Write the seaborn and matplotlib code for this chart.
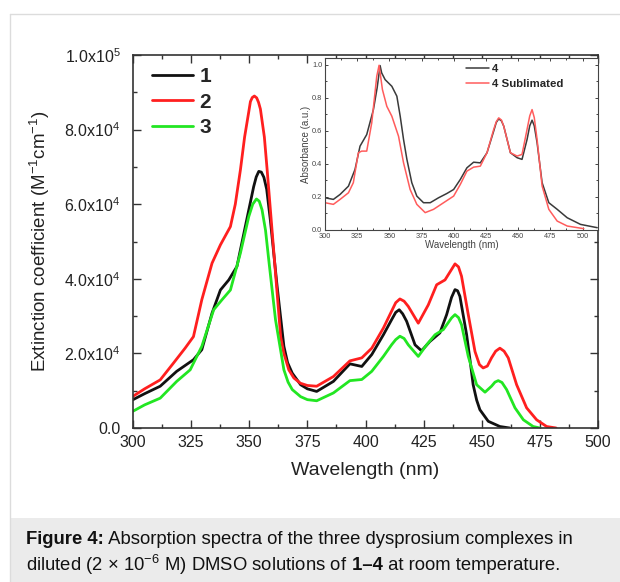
import numpy as np
import pandas as pd
import seaborn as sns
import matplotlib.pyplot as plt
from matplotlib.ticker import MultipleLocator, FuncFormatter, FormatStrFormatter
from matplotlib.lines import Line2D
from matplotlib.patches import Rectangle

# main panel: extinction coefficient (x1000 M-1 cm-1) vs wavelength (nm)
wl_1 = [300, 305, 311.7, 318.8, 326, 329.6, 334, 337.6, 341.2, 344.7, 348.3, 351.9, 353, 354.1, 355.2,
        356.3, 357.5, 359.1, 362, 364.9, 366.5, 368.5, 372.1, 375, 379, 386.2, 393.3, 398.4, 402.7,
        407.7, 411.2, 413, 414.5, 416, 417.7, 421.3, 424.1, 427.7, 432, 434.9, 437, 438.5, 439.6,
        440.6, 443.5, 445, 446.3, 447.8, 449.2, 452.8, 457.8, 462]
eps_1 = [7.6, 9.2, 11.2, 15.2, 18.3, 21.0, 30.8, 37.0, 39.7, 43.3, 54.0, 64.7, 67.3, 68.8, 68.6,
         67.2, 64.0, 55.6, 37.9, 21.9, 17.5, 14.7, 11.6, 10.5, 9.8, 12.5, 17.2, 16.5, 19.7,
         25.0, 29.0, 31.0, 31.7, 30.6, 28.6, 22.3, 20.7, 23.2, 25.5, 30.4, 35.0, 37.1, 36.8,
         35.3, 25.0, 18.0, 11.6, 7.5, 4.9, 1.8, 0.4, 0.0]

wl_2 = [300, 305, 311.7, 317.4, 322.4, 326, 329.6, 334, 337.6, 341.9, 344, 346.2, 348, 349.8, 350.5,
        351.3, 352.2, 353.2, 354, 354.8, 356.5, 357.7, 360.6, 363.5, 364.9, 367, 369.2, 372, 375,
        379, 386.2, 393.3, 398.4, 402.7, 407.7, 411.2, 413, 414.8, 416.6, 418.4, 422.7, 427, 430.6,
        434.2, 436.5, 438.5, 440, 441.3, 444.2, 447.1, 449, 450.6, 452.4, 454.2, 456, 457.8, 459.6,
        461.4, 465, 469.3, 473.6, 477.9, 482]
eps_2 = [8.5, 10.5, 12.9, 17.4, 21.4, 24.5, 34.4, 44.2, 49.1, 54.0, 60.0, 69.2, 78.0, 84.8, 87.5,
         88.6, 89.0, 88.5, 87.3, 85.5, 78.0, 69.2, 46.9, 24.5, 20.0, 15.6, 13.4, 12.0, 11.4,
         11.2, 13.8, 18.0, 18.8, 21.4, 26.8, 31.3, 33.6, 34.6, 34.0, 32.6, 28.1, 33.0, 38.4,
         39.7, 42.0, 44.0, 43.2, 40.7, 30.4, 20.5, 17.0, 16.1, 16.6, 18.8, 20.6, 21.4, 20.6,
         18.8, 11.6, 5.4, 2.2, 0.4, 0.0]

wl_3 = [300, 305, 311.7, 318.8, 324.6, 329.6, 334.7, 338.3, 341.9, 346.2, 349.8, 351.5, 353.1, 354.3,
        355.5, 357, 358.4, 361.3, 364.9, 366.7, 368.5, 372.1, 375, 379, 386.2, 393.3, 398.4, 402.7,
        407.7, 411.2, 413, 414.8, 416.6, 418.4, 422.7, 426.3, 429.9, 433.5, 437, 438.5, 440, 441.3,
        444.2, 447.8, 451.4, 454.2, 455.7, 457.1, 458.7, 460.7, 464.3, 467.9, 472.1, 475]
eps_3 = [4.5, 6.2, 8.0, 12.5, 15.6, 21.9, 31.7, 34.4, 37.0, 46.9, 56.7, 60.0, 61.4, 60.8,
         58.5, 53.0, 45.0, 29.0, 15.6, 12.3, 10.3, 8.4, 7.6, 7.3, 9.4, 12.7, 13.0, 15.2,
         19.2, 22.3, 23.7, 24.6, 24.0, 22.3, 19.2, 22.3, 25.0, 26.4, 29.5, 30.4, 29.6, 27.7,
         19.2, 11.6, 9.6, 11.2, 12.3, 12.7, 12.2, 10.3, 5.4, 2.2, 0.4, 0.0]

# inset: normalised absorbance of 4 and sublimated 4
wl_4 = [300, 306.5, 311.7, 318.2, 323.3, 327.2, 332.4, 337.6, 340.5, 342.8, 344, 346.7, 351.9, 355.8,
        358.4, 361, 363.6, 367.4, 371.3, 376.5, 381.7, 388.2, 394.7, 399.9, 405.1, 410.2, 415.4,
        420.6, 425.8, 431, 433, 434.9, 437, 438.8, 444, 449.2, 453, 456.9, 459, 460.8, 462.5, 464.7,
        468.6, 473.8, 480.3, 488.1, 498.4, 511.4]
abs_4 = [0.195, 0.185, 0.215, 0.265, 0.366, 0.507, 0.577, 0.728, 0.86, 0.994, 0.95, 0.909, 0.869, 0.809,
         0.688, 0.547, 0.427, 0.286, 0.205, 0.165, 0.165, 0.195, 0.221, 0.245, 0.306, 0.376, 0.41,
         0.406, 0.467, 0.598, 0.65, 0.672, 0.66, 0.628, 0.467, 0.437, 0.427, 0.547, 0.63, 0.664, 0.63, 0.527,
         0.286, 0.165, 0.125, 0.074, 0.034, 0.014]

wl_4s = [300, 306.5, 311.7, 318.2, 322, 325.9, 328.5, 332.4, 336.3, 340.2, 342, 344.6, 348, 351.9,
         357.1, 361, 366.1, 371.3, 377.8, 384.3, 392.1, 399.9, 405.1, 410.2, 415.4, 420.6, 425.8,
         431, 433, 434.9, 437, 438.8, 444, 449.2, 453, 456.9, 459, 460.8, 462.5, 464.7, 468.6, 473.8,
         480.3, 488.1, 501]
abs_4s = [0.165, 0.155, 0.185, 0.225, 0.286, 0.467, 0.477, 0.477, 0.648, 0.93, 0.996, 0.849, 0.748, 0.688,
          0.567, 0.406, 0.245, 0.155, 0.105, 0.125, 0.165, 0.205, 0.276, 0.356, 0.38, 0.386, 0.467,
          0.608, 0.655, 0.678, 0.665, 0.628, 0.467, 0.447, 0.457, 0.608, 0.69, 0.728, 0.68, 0.547, 0.266, 0.125,
          0.054, 0.024, 0.008]

caption_1 = ['Figure 4:', ' Absorption spectra of the three dysprosium complexes in']
caption_2 = ['diluted (2 × 10$^{−6}$ M) DMSO solutions of', ' 1–4', ' at room temperature.']

sns.set_style('ticks')
plt.rcParams['font.family'] = ['Liberation Sans', 'DejaVu Sans']
plt.rcParams['mathtext.fontset'] = 'custom'
plt.rcParams['mathtext.rm'] = 'Liberation Sans'
plt.rcParams['mathtext.it'] = 'Liberation Sans:italic'
plt.rcParams['mathtext.bf'] = 'Liberation Sans:bold'

W, H = 620, 582
fig = plt.figure(figsize=(W / 100, H / 100), dpi=100)
fig.patch.set_facecolor('white')

# page frame and caption band
fig.add_artist(Rectangle((10 / W, 0), 610 / W, 64 / H, transform=fig.transFigure,
                         facecolor='#ebebeb', edgecolor='none', zorder=0))
fig.add_artist(Line2D([10 / W, 1], [1 - 14 / H, 1 - 14 / H], transform=fig.transFigure,
                      color='#dcdcdc', lw=1))
fig.add_artist(Line2D([10 / W, 10 / W], [0, 1 - 14 / H], transform=fig.transFigure,
                      color='#dcdcdc', lw=1))

ax = fig.add_axes([133 / W, 1 - 428 / H, 465 / W, 373 / H])
main = [('1', wl_1, eps_1, '#111111'), ('2', wl_2, eps_2, '#ff1f1f'), ('3', wl_3, eps_3, '#22e622')]
for name, wl, eps, col in main:
    sns.lineplot(x=wl, y=np.array(eps) * 1000, ax=ax, color=col, lw=2, label=name,
                 sort=False, estimator=None)

ax.set_xlim(300, 500)
ax.set_ylim(0, 1e5)
ax.xaxis.set_major_locator(MultipleLocator(25))
ax.xaxis.set_minor_locator(MultipleLocator(12.5))
ax.yaxis.set_major_locator(MultipleLocator(2e4))
ax.yaxis.set_minor_locator(MultipleLocator(1e4))


def sci(v, pos):
    if v <= 0:
        return '0.0'
    e = int(np.floor(np.log10(v) + 1e-9))
    return f'{v / 10 ** e:.1f}x10$^{{{e}}}$'


ax.yaxis.set_major_formatter(FuncFormatter(sci))
ax.tick_params(which='both', direction='in', top=True, right=True, colors='#333333',
               labelcolor='#222222', width=1)
ax.tick_params(which='major', length=5.5, labelsize=11.5)
ax.tick_params(axis='y', which='major', pad=9)
ax.tick_params(axis='x', which='major', pad=5)
ax.tick_params(which='minor', length=3)
for s in ax.spines.values():
    s.set_linewidth(1.2)
    s.set_color('#333333')
ax.set_xlabel('Wavelength (nm)', fontsize=14, color='#222222', labelpad=9)
ax.set_ylabel('Extinction coefficient (M$^{-1}$cm$^{-1}$)', fontsize=13.5, color='#222222', labelpad=9)

leg = ax.legend(loc='upper left', bbox_to_anchor=(0.013, 1.0), frameon=False,
                prop={'weight': 'bold', 'size': 15}, handlelength=2.0, handletextpad=0.3,
                labelspacing=0.3, borderaxespad=0.2)
for h in leg.get_lines():
    h.set_linewidth(2)

# inset
axin = fig.add_axes([325 / W, 1 - 230 / H, 273 / W, 172 / H])
sns.lineplot(x=wl_4, y=abs_4, ax=axin, color='#3a3a3a', lw=1.1, label='4', sort=False, estimator=None)
sns.lineplot(x=wl_4s, y=abs_4s, ax=axin, color='#ff5c5c', lw=1.1, label='4 Sublimated',
             sort=False, estimator=None)
axin.set_xlim(300, 512)
axin.set_ylim(0, 1.04)
axin.xaxis.set_major_locator(MultipleLocator(25))
axin.xaxis.set_minor_locator(MultipleLocator(12.5))
axin.yaxis.set_major_locator(MultipleLocator(0.2))
axin.yaxis.set_minor_locator(MultipleLocator(0.1))
axin.yaxis.set_major_formatter(FormatStrFormatter('%.1f'))
axin.tick_params(which='both', direction='in', top=True, right=True, colors='#444444',
                 labelcolor='#444444', width=0.7, labelsize=5.3, pad=2)
axin.tick_params(which='major', length=2.5)
axin.tick_params(which='minor', length=1.5)
for s in axin.spines.values():
    s.set_linewidth(0.8)
    s.set_color('#444444')
axin.set_xlabel('Wavelength (nm)', fontsize=7, color='#444444', labelpad=0.5)
axin.set_ylabel('Absorbance (a.u.)', fontsize=7, color='#444444', labelpad=1)
legi = axin.legend(loc='upper left', bbox_to_anchor=(0.5, 0.99), frameon=False,
                   prop={'weight': 'bold', 'size': 8.2}, handlelength=2.0, handletextpad=0.25,
                   labelspacing=0.4, borderaxespad=0.0)

# caption, pieces placed one after another
renderer = fig.canvas.get_renderer()


def put_line(pieces, weights, y):
    x = 26
    for txt, wt in zip(pieces, weights):
        t = fig.text(x / W, 1 - y / H, txt, fontsize=13.3, weight=wt, va='center', color='#111111')
        x += t.get_window_extent(renderer).width


put_line(caption_1, ['bold', 'normal'], 540)
put_line(caption_2, ['normal', 'bold', 'normal'], 565)

fig.savefig('out.png', dpi=100)
